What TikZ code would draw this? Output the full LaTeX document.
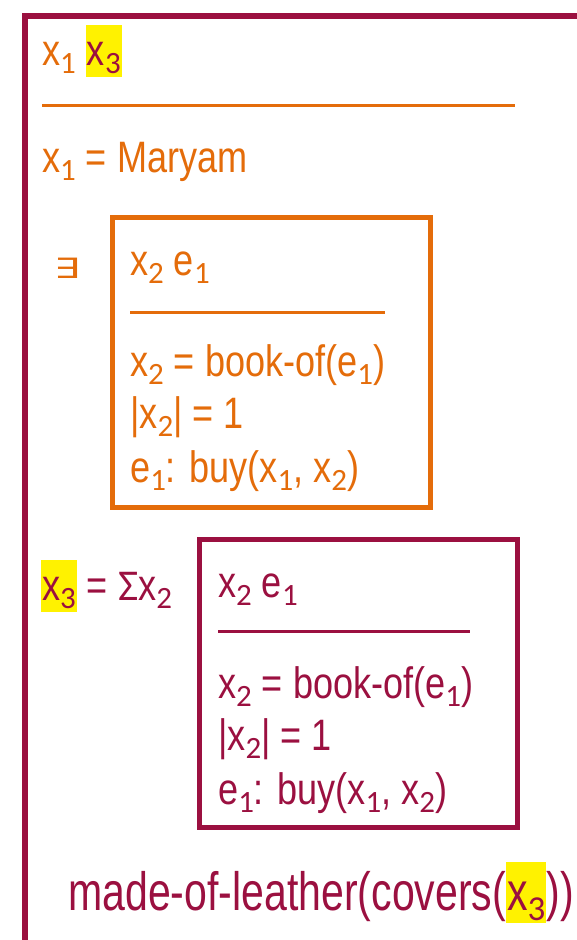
\documentclass[tikz,border=0pt]{standalone}
\usepackage{fontspec}
\setmainfont{Liberation Sans}
\newfontfamily\narrowf[FakeStretch=0.82]{Liberation Sans}
\newfontfamily\narrowg[FakeStretch=0.76]{Liberation Sans}
\newfontfamily\subf{Carlito}
\newfontfamily\symf{DejaVu Sans}
\definecolor{drsmaroon}{HTML}{9B1040}
\definecolor{drsorange}{HTML}{E46C0A}
\newcommand\sbx[1]{\raisebox{-0.2em}{\subf\fontsize{31}{31}\selectfont #1}}
\newcommand\sby[1]{\raisebox{-0.2em}{\subf\fontsize{35}{35}\selectfont #1}}
\newcommand\hlx[1]{{\setlength\fboxsep{1pt}\colorbox{yellow}{\rule[-11pt]{0pt}{50pt}\color{drsmaroon}#1}}}
\newcommand\hly[1]{{\setlength\fboxsep{1pt}\colorbox{yellow}{\rule[-12pt]{0pt}{59pt}\color{drsmaroon}#1}}}
\tikzset{
  txt/.style={anchor=base west, inner sep=0pt, font=\narrowf\fontsize{44}{52}\selectfont},
  bigtxt/.style={anchor=base west, inner sep=0pt, font=\narrowg\fontsize{54}{60}\selectfont},
  rulel/.style={line width=3pt},
  drsbox/.style={draw, line width=5pt, anchor=north west, inner sep=0pt}
}
\begin{document}
\begin{tikzpicture}[x=1pt,y=-1pt]
\useasboundingbox (0,0) rectangle (577,940);
\begin{scope}
\clip (0,0) rectangle (577,940);
\node[draw=drsmaroon, line width=6pt, anchor=north west, inner sep=0pt, minimum width=600pt, minimum height=960pt] (outer) at (22,13) {};
\end{scope}
% top
\node[txt, text=drsorange] (top) at (42,65) {x\sbx{1} \hlx{x\sbx{3}}};
\coordinate (r0a) at (42,105);
\coordinate (r0b) at (515,105);
\draw[rulel, drsorange] (r0a) -- (r0b);
\node[txt, text=drsorange] (mary) at (42,172) {x\sbx{1} = Maryam};
% exists box
\node[txt, text=drsorange, font=\symf\fontsize{28}{30}\selectfont] (ex) at (54,278) {\scalebox{1.45}[1]{∃}};
\node[drsbox, draw=drsorange, minimum width=318pt, minimum height=290pt] (box1) at (110,215) {};
\node[txt, text=drsorange] (b1h) at (130,275) {x\sbx{2} e\sbx{1}};
\coordinate (r1a) at (130,312);
\coordinate (r1b) at (385,312);
\draw[rulel, drsorange] (r1a) -- (r1b);
\node[txt, text=drsorange] (b1l1) at (130,376) {x\sbx{2} = book-of(e\sbx{1})};
\node[txt, text=drsorange] (b1l2) at (130,428) {|x\sbx{2}| = 1};
\node[txt, text=drsorange] (b1l3) at (130,482) {e\sbx{1}: buy(x\sbx{1}, x\sbx{2})};
% sum box
\node[txt, text=drsmaroon] (sum) at (41,600) {\hlx{x\sbx{3}} = {\subf Σ}x\sbx{2}};
\node[drsbox, draw=drsmaroon, minimum width=318pt, minimum height=288pt] (box2) at (197,537) {};
\node[txt, text=drsmaroon] (b2h) at (218,597) {x\sbx{2} e\sbx{1}};
\coordinate (r2a) at (218,631);
\coordinate (r2b) at (470,631);
\draw[rulel, drsmaroon] (r2a) -- (r2b);
\node[txt, text=drsmaroon] (b2l1) at (218,698) {x\sbx{2} = book-of(e\sbx{1})};
\node[txt, text=drsmaroon] (b2l2) at (218,750) {|x\sbx{2}| = 1};
\node[txt, text=drsmaroon] (b2l3) at (218,804) {e\sbx{1}: buy(x\sbx{1}, x\sbx{2})};
% last line
\node[bigtxt, text=drsmaroon] (leather) at (68,910) {made-of-leather(covers(\hly{x\sby{3}}))};
\end{tikzpicture}
\end{document}
